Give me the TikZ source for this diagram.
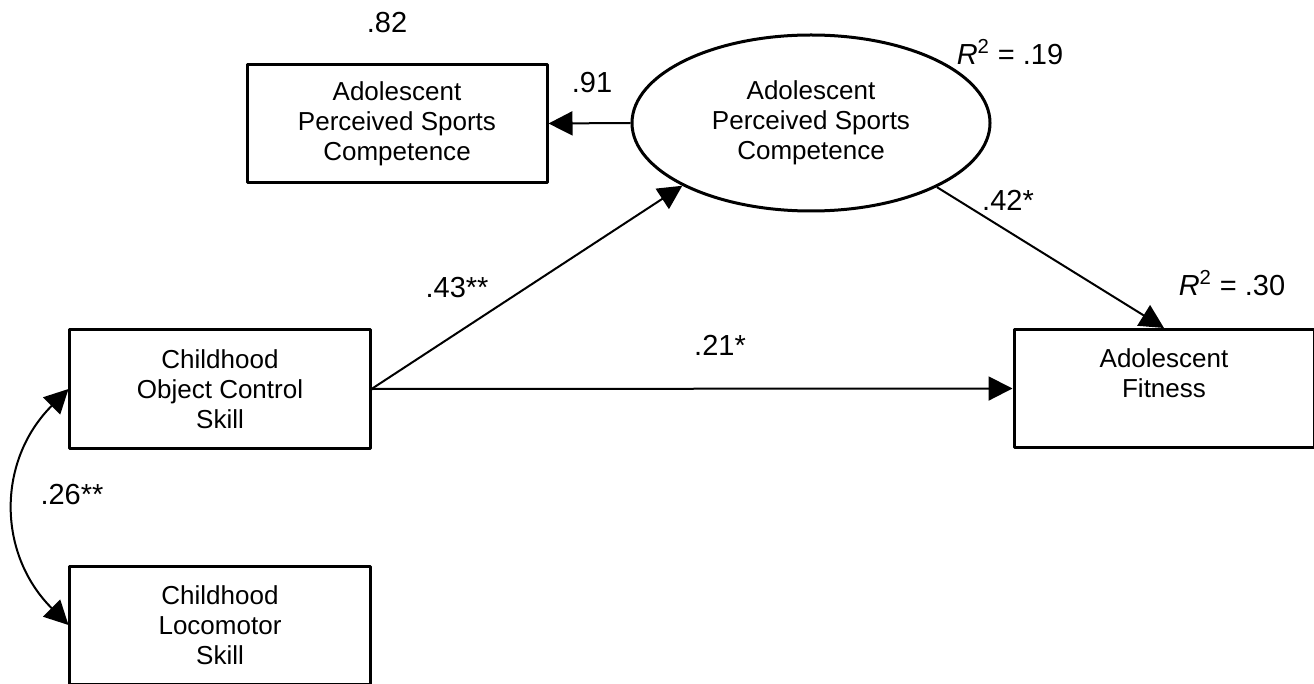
\documentclass[tikz,border=0pt]{standalone}
\usepackage{fontspec}
\setmainfont{Liberation Sans}
\usetikzlibrary{arrows.meta,shapes.geometric}
\begin{document}
\begin{tikzpicture}[x=0.2mm, y=-0.2mm, font=\fontsize{14.8}{17.1}\selectfont, line join=round,
	>={Triangle[length=4.8mm,width=4.8mm]},
	box/.style={draw, line width=0.6mm, minimum width=60mm, minimum height=23.6mm, align=center, inner sep=0pt},
	latent/.style={draw, ellipse, line width=0.6mm, minimum width=71.6mm, minimum height=35.2mm, align=center, inner sep=0pt},
	coef/.style={font=\fontsize{16.5}{19}\selectfont},
	link/.style={line width=0.4mm}]
	\def\rsq{\textit{R}\textsuperscript{2}} % hệ số R^2
	\useasboundingbox (0,0) rectangle (1314,684);
	\path 
	(397,123.5) node[box] (obs) {Adolescent\\Perceived Sports\\Competence}
	(811,123) node[latent] (lat) {Adolescent\\Perceived Sports\\Competence}
	(220,389) node[box] (coc) {Childhood\\Object Control\\Skill}
	(220,625) node[box] (loco) {Childhood\\Locomotor\\Skill}
	(1164,388.5) node[box] (fit) {Adolescent\\Fitness\\\mbox{}};
	\path[coef] 
	(387,23) node (e82) {.82}
	(592,83) node (w91) {.91}
	(1010,52) node (r19) {\rsq\ = .19}
	(457,288) node (w43) {.43**}
	(720,345) node (w21) {.21*}
	(1008,200) node (w42) {.42*}
	(1232,283) node (r30) {\rsq\ = .30}
	(72,495) node (c26) {.26**};
	\draw[link,->] (lat.west)--(obs.east);
	\draw[link,->] (coc.east)--(lat.206);
	\draw[link,->] (lat.333)--(fit.north);
	\draw[link,->] (coc.east)--(fit.west);
	\draw[link,<->] (coc.west) to[out=225,in=135,looseness=1.1] (loco.west);
\end{tikzpicture}
\end{document}
